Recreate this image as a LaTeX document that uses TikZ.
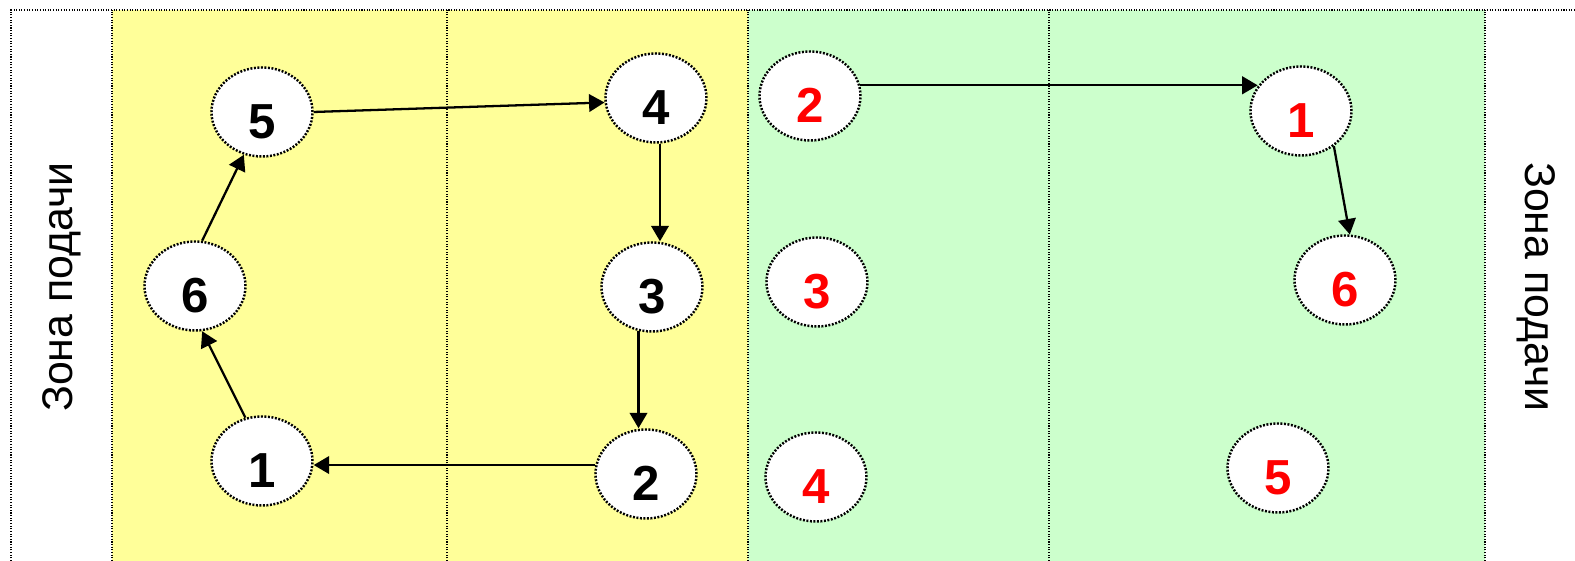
\documentclass[tikz,border=0pt]{standalone}
\usepackage{fontspec}
\setmainfont{Liberation Sans}
\usepackage{tikz}
\usetikzlibrary{arrows.meta,shapes,positioning}
\usepackage{xcolor}
\definecolor{courtyellow}{RGB}{255,255,153}
\definecolor{courtgreen}{RGB}{204,255,204}
\definecolor{oppred}{RGB}{255,0,0}
\tikzstyle{arrow} = [line width=0.65pt,-{Triangle[length=4.4pt,width=5pt]}]
\tikzstyle{zoneline} = [line width=0.3pt, dash pattern=on 0.3pt off 0.45pt]
\tikzstyle{playerbox} = [ellipse, draw, line width=0.7pt, dash pattern=on 0.55pt off 0.45pt, fill=white, minimum width=1.01cm, minimum height=0.89cm, inner sep=0pt, text height=0.53cm, text depth=0pt, font=\bfseries\fontsize{14}{16}\selectfont]
\tikzstyle{oppbox} = [playerbox, text=oppred]
\tikzstyle{zonetext} = [font=\fontsize{12.2}{14}\selectfont, anchor=base, inner sep=0pt]

\begin{document}
\begin{tikzpicture}
\useasboundingbox (0,0) rectangle (15.75,5.61);

% Court halves
\fill[courtyellow] (1.12,0) rectangle (7.48,5.51);
\fill[courtgreen] (7.48,0) rectangle (14.85,5.51);
\draw[zoneline] (0.11,0) -- (0.11,5.51) -- (15.75,5.51);
\foreach \x in {1.12,4.47,7.48,10.49,14.85}
  \draw[zoneline] (\x,0) -- (\x,5.51);

% Serving zones
\node[zonetext, rotate=90] (serveleft) at (0.73,2.74) {Зона подачи};
\node[zonetext, rotate=-90] (serveright) at (15.25,2.74) {Зона подачи};

% Own team
\node[playerbox] (b5) at (2.62,4.49) {5};
\node[playerbox] (b4) at (6.56,4.63) {4};
\node[playerbox] (b6) at (1.95,2.75) {6};
\node[playerbox] (b3) at (6.52,2.74) {3};
\node[playerbox] (b1) at (2.62,1.00) {1};
\node[playerbox] (b2) at (6.46,0.87) {2};

% Opponents
\node[oppbox] (r2) at (8.10,4.65) {2};
\node[oppbox] (r1) at (13.01,4.50) {1};
\node[oppbox] (r3) at (8.17,2.79) {3};
\node[oppbox] (r6) at (13.45,2.81) {6};
\node[oppbox] (r4) at (8.16,0.84) {4};
\node[oppbox] (r5) at (12.78,0.93) {5};

% Rotation
\draw[arrow] (b1.111) -- (b6.-81);
\draw[arrow] (b6.81) -- (b5.-113);
\draw[arrow] (b5.east) -- (b4.185);
\draw[arrow] (b4.-85) -- (b4.-85 |- b3.north);
\draw[arrow] (b3.-107) -- (b3.-107 |- b2.north);
\draw[arrow] (b2.170) -- (b2.170 -| b1.east);
\draw[arrow] (r2.12) -- (r2.12 -| r1.150);
\draw[arrow] (r1.-47) -- (r6.84);
\end{tikzpicture}
\end{document}
